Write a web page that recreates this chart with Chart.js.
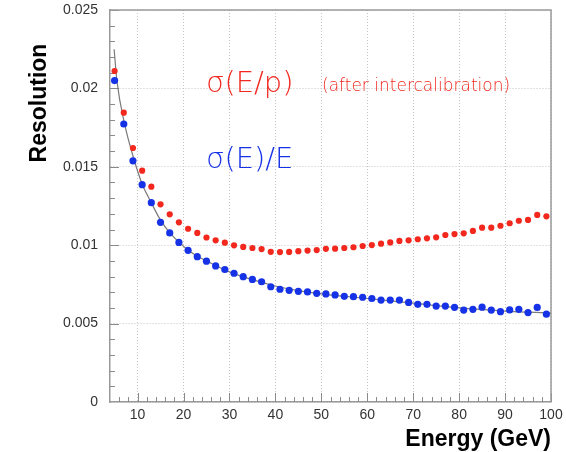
<!DOCTYPE html>
<html>
<head>
<meta charset="utf-8">
<script src="https://cdn.jsdelivr.net/npm/chart.js@4.4.1/dist/chart.umd.min.js"></script>
<style>
html,body{margin:0;padding:0;background:#fff;}
canvas{display:block;}
</style>
</head>
<body>
<canvas id="c" width="566" height="452"></canvas>
<script>
// ---- data ----
const ENERGY = [5,7,9,11,13,15,17,19,21,23,25,27,29,31,33,35,37,39,41,43,45,47,49,51,
                53,55,57,59,61,63,65,67,69,71,73,75,77,79,81,83,85,87,89,91,93,95,97,99];

const SIGMA_E_OVER_E = [0.0205,0.01773,0.01538,0.01386,0.01271,0.01146,0.01078,0.01018,
  0.00967,0.00927,0.00898,0.00868,0.00845,0.00821,0.00799,0.00782,0.00767,0.00735,
  0.00719,0.00712,0.00706,0.00702,0.00693,0.00689,0.00683,0.00674,0.00672,0.00668,
  0.0066,0.0065,0.0065,0.0065,0.00635,0.00623,0.00623,0.00612,0.00612,0.00604,
  0.00586,0.00591,0.00605,0.00586,0.00576,0.00587,0.00591,0.0057,0.00603,0.0056];

const SIGMA_E_OVER_P = [0.02111,0.01845,0.0162,0.01475,0.01373,0.01261,0.01197,0.01146,
  0.01105,0.01078,0.01049,0.01031,0.01016,0.00999,0.00989,0.00982,0.00975,0.00958,
  0.00956,0.00957,0.00962,0.00966,0.00969,0.00977,0.00978,0.00982,0.00987,0.00995,
  0.01001,0.0101,0.01018,0.01027,0.01031,0.01038,0.01044,0.0105,0.01065,0.01071,
  0.01076,0.01091,0.01112,0.01112,0.01124,0.0114,0.01156,0.01161,0.01193,0.01184];

// fitted curve
const FIT_ENERGY     = [4.9, 5.5, 7.2, 9.3, 11, 13, 15, 17, 19, 21, 23, 25, 30, 35, 40, 45, 50, 60, 70, 80, 90, 100];
const FIT_RESOLUTION = [0.0225,0.0205,0.0177,0.0154,0.0139,0.0127,0.0116,0.0108,0.0102,0.0097,0.0093,0.009,
                        0.0083,0.0078,0.0074,0.0071,0.0069,0.0066,0.0063,0.006,0.0058,0.00567];

const X_TICKS = [10,20,30,40,50,60,70,80,90,100];
const Y_TICKS = [0,0.005,0.01,0.015,0.02,0.025];
const Y_TICK_LABELS = ['0','0.005','0.01','0.015','0.02','0.025'];

const RED = '#f2281e';
const BLUE = '#1632e6';

const decor = {
  id: 'decor',
  beforeDatasetsDraw(chart) {
    const {ctx, chartArea: a, scales: {x, y}} = chart;
    ctx.save();
    // ticks drawn inside the frame
    ctx.strokeStyle = '#8a8a8a';
    ctx.lineWidth = 1;
    ctx.beginPath();
    for (let v = 6; v <= 100; v += 2) {
      const px = Math.round(x.getPixelForValue(v)) + 0.5;
      const len = (v % 10 === 0) ? 9 : 5;
      ctx.moveTo(px, a.bottom); ctx.lineTo(px, a.bottom - len);
    }
    for (let i = 1; i <= 25; i++) {
      const py = Math.round(y.getPixelForValue(i * 0.001)) + 0.5;
      const len = (i % 5 === 0) ? 9 : 5;
      ctx.moveTo(a.left, py); ctx.lineTo(a.left + len, py);
    }
    ctx.stroke();
    // top & right frame
    ctx.strokeStyle = '#9a9a9a';
    ctx.lineWidth = 1.5;
    ctx.beginPath();
    ctx.moveTo(a.left, a.top); ctx.lineTo(a.right, a.top); ctx.lineTo(a.right, a.bottom);
    ctx.stroke();
    ctx.restore();
  },
  afterDraw(chart) {
    const {ctx, chartArea: a} = chart;
    ctx.save();
    ctx.fillStyle = '#000';
    ctx.font = 'bold 23px "Liberation Sans", Arial, sans-serif';
    ctx.textAlign = 'right';
    ctx.textBaseline = 'alphabetic';
    ctx.fillText('Energy (GeV)', a.right, 446);
    ctx.save();
    ctx.translate(46, 103);
    ctx.rotate(-Math.PI / 2);
    ctx.textAlign = 'center';
    ctx.fillText('Resolution', 0, 0);
    ctx.restore();

    ctx.textAlign = 'left';
    ctx.fillStyle = RED;
    ctx.font = '200 29px "DejaVu Sans", sans-serif';
    ctx.fillText('σ(E/p)', 206, 92);
    ctx.font = '200 17px "DejaVu Sans", sans-serif';
    ctx.fillText('(after intercalibration)', 322, 91);
    ctx.fillStyle = BLUE;
    ctx.font = '200 29px "DejaVu Sans", sans-serif';
    ctx.fillText('σ(E)/E', 206, 168);
    ctx.restore();
  }
};

const toXY = (xs, ys) => xs.map((v, i) => ({x: v, y: ys[i]}));

new Chart(document.getElementById('c'), {
  type: 'scatter',
  data: {
    datasets: [
      {
        label: 'σ(E)/E',
        data: toXY(ENERGY, SIGMA_E_OVER_E),
        backgroundColor: BLUE,
        borderWidth: 0,
        pointRadius: 3.6,
        showLine: false
      },
      {
        label: 'σ(E/p)',
        data: toXY(ENERGY, SIGMA_E_OVER_P),
        backgroundColor: RED,
        borderWidth: 0,
        pointRadius: 3.1,
        showLine: false
      },
      {
        label: 'fit',
        data: toXY(FIT_ENERGY, FIT_RESOLUTION),
        showLine: true,
        borderColor: '#7a7a7a',
        borderWidth: 1.2,
        pointRadius: 0,
        cubicInterpolationMode: 'monotone',
        fill: false
      }
    ]
  },
  options: {
    responsive: false,
    devicePixelRatio: 1,
    animation: false,
    layout: {padding: {left: 0, right: 15, top: 10, bottom: 0}},
    plugins: {legend: {display: false}, tooltip: {enabled: false}},
    scales: {
      x: {
        type: 'linear',
        position: 'bottom',
        min: 4,
        max: 100,
        afterBuildTicks: s => { s.ticks = X_TICKS.map(v => ({value: v})); },
        afterFit: s => { s.height = 50; s.paddingLeft = 0; s.paddingRight = 0; },
        ticks: {
          autoSkip: false,
          maxRotation: 0,
          padding: 5,
          color: '#333',
          font: {family: '"Liberation Sans", Arial, sans-serif', size: 14}
        },
        grid: {color: '#c4c4c4', lineWidth: 1, drawTicks: false},
        border: {display: true, color: '#999', width: 1.5, dash: [1, 2]}
      },
      y: {
        type: 'linear',
        min: 0,
        max: 0.025,
        afterBuildTicks: s => { s.ticks = Y_TICKS.map(v => ({value: v})); },
        afterFit: s => { s.width = 110; s.paddingTop = 0; s.paddingBottom = 0; },
        ticks: {
          autoSkip: false,
          padding: 12,
          color: '#333',
          font: {family: '"Liberation Sans", Arial, sans-serif', size: 14},
          callback: (v, i) => Y_TICK_LABELS[i]
        },
        grid: {color: '#c4c4c4', lineWidth: 1, drawTicks: false},
        border: {display: true, color: '#999', width: 1.5, dash: [1, 2]}
      }
    }
  },
  plugins: [decor]
});
</script>
</body>
</html>
